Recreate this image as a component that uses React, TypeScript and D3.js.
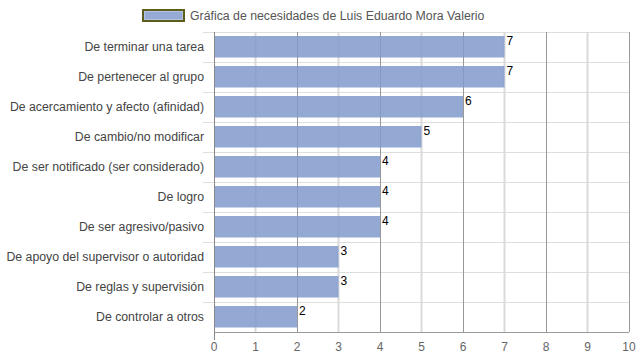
import * as d3 from 'd3';

const categories = [
  'De terminar una tarea',
  'De pertenecer al grupo',
  'De acercamiento y afecto (afinidad)',
  'De cambio/no modificar',
  'De ser notificado (ser considerado)',
  'De logro',
  'De ser agresivo/pasivo',
  'De apoyo del supervisor o autoridad',
  'De reglas y supervisión',
  'De controlar a otros',
];
const values = [7, 7, 6, 5, 4, 4, 4, 3, 3, 2];
const xTicks = [0, 1, 2, 3, 4, 5, 6, 7, 8, 9, 10];
const seriesName = 'Gráfica de necesidades de Luis Eduardo Mora Valerio';

const width = 639;
const height = 360;
const margin = { top: 32, right: 10, bottom: 28, left: 214 };
const font = '"Liberation Sans", Arial, sans-serif';

export default function App() {
  const innerW = width - margin.left - margin.right;
  const innerH = height - margin.top - margin.bottom;

  const x = d3.scaleLinear().domain([0, 10]).range([0, innerW]);
  const yBand = d3.scaleBand<string>().domain(categories).range([0, innerH]);
  const bandH = yBand.bandwidth();
  const barPad = 4;

  return (
    <div style={{ position: 'absolute', left: 0, top: 0 }}>
      <svg width={width} height={height} style={{ display: 'block', fontFamily: font }}>
        <rect width={width} height={height} fill="#fff" />

        {/* legend */}
        <rect x={143} y={10} width={41} height={11} fill="#95aad5" stroke="#5e5e1c" strokeWidth={2} />
        <rect x={144.5} y={11.5} width={38} height={8} fill="none" stroke="#b4c2e0" strokeWidth={1} />
        <text x={190} y={19.5} fontSize={12.3} fill="#555">
          {seriesName}
        </text>

        <g transform={`translate(${margin.left},${margin.top})`}>
          {/* row separators */}
          {d3.range(categories.length).map((i) => (
            <line
              key={`sep${i}`}
              x1={-11}
              x2={innerW}
              y1={i * bandH + 0.5}
              y2={i * bandH + 0.5}
              stroke="#dedede"
            />
          ))}

          {/* vertical gridlines */}
          {xTicks.slice(1).map((t) =>
            t % 2 === 1 ? (
              <line key={`g${t}`} x1={x(t)} x2={x(t)} y1={0} y2={innerH} stroke="#dadada" strokeWidth={2} />
            ) : (
              <line key={`g${t}`} x1={Math.round(x(t)) + 0.5} x2={Math.round(x(t)) + 0.5} y1={0} y2={innerH} stroke="#999" />
            )
          )}

          {/* bars */}
          {categories.map((c, i) => (
            <rect
              key={c}
              x={0}
              y={(yBand(c) ?? 0) + barPad}
              width={x(values[i])}
              height={bandH - barPad * 2 - 0.5}
              fill="rgb(128,154,205)"
              fillOpacity={0.85}
            />
          ))}

          {/* value labels */}
          {categories.map((c, i) => (
            <text key={`v${c}`} x={x(values[i]) + 2} y={(yBand(c) ?? 0) + 13} fontSize={12} fill="#000">
              {values[i]}
            </text>
          ))}

          {/* category labels */}
          {categories.map((c) => (
            <text
              key={`l${c}`}
              x={-10}
              y={(yBand(c) ?? 0) + bandH / 2 + 3.5}
              fontSize={12.3}
              fill="#444"
              textAnchor="end"
            >
              {c}
            </text>
          ))}

          {/* axes */}
          <line x1={0.5} x2={0.5} y1={0} y2={innerH + 8} stroke="#888" />
          <line x1={0} x2={innerW} y1={innerH + 0.5} y2={innerH + 0.5} stroke="#999" />
          {xTicks.map((t) => (
            <text key={`t${t}`} x={x(t)} y={innerH + 19} fontSize={12} fill="#666" textAnchor="middle">
              {t}
            </text>
          ))}
        </g>
      </svg>
    </div>
  );
}
